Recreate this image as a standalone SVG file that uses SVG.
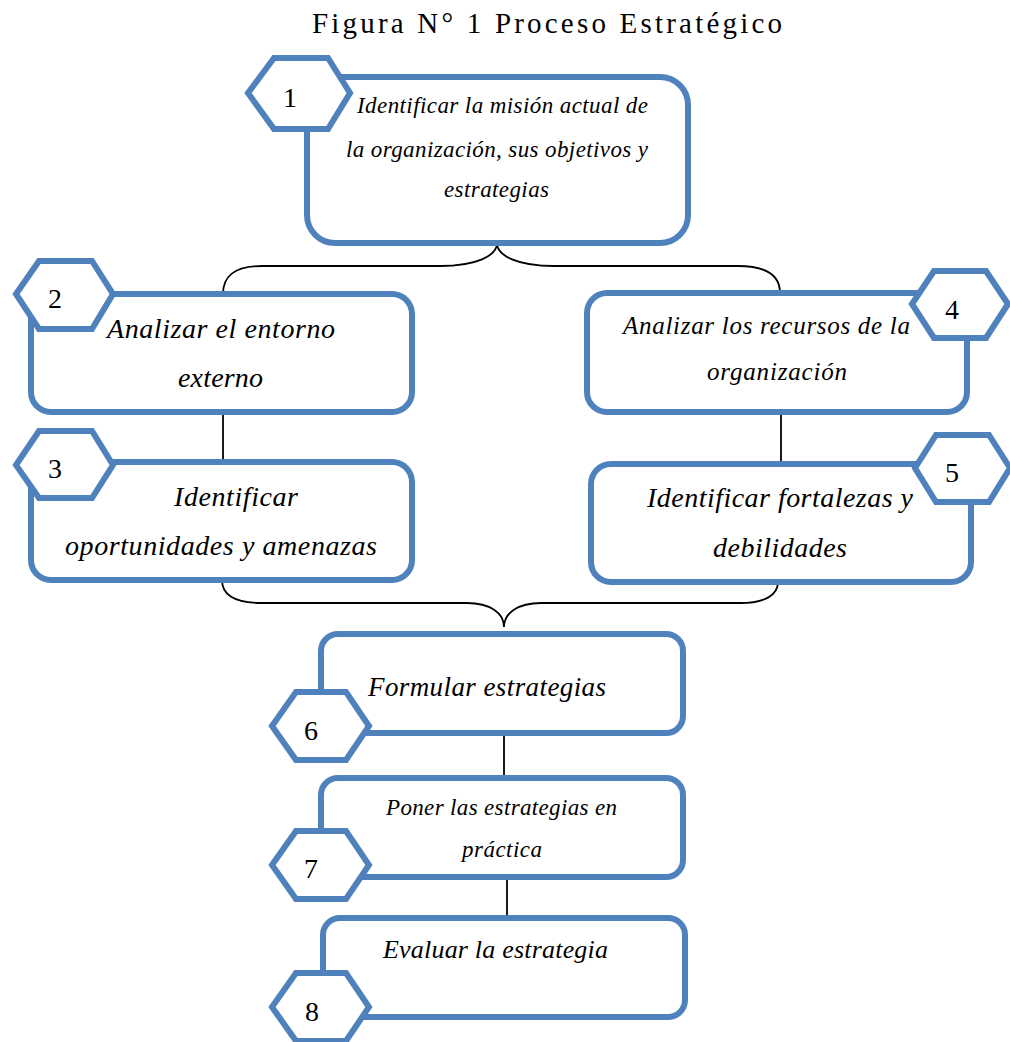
<svg xmlns="http://www.w3.org/2000/svg" width="1010" height="1042" viewBox="0 0 1010 1042">
<style>
.box{fill:#fff;stroke:#4F81BD;stroke-width:6}
.hex{fill:#fff;stroke:#4F81BD;stroke-width:6;stroke-linejoin:miter}
.con{fill:none;stroke:#000;stroke-width:1.8}
.t{font-family:"Liberation Serif","Times New Roman",serif;font-style:italic;fill:#000}
.n{font-family:"Liberation Serif","Times New Roman",serif;font-size:28px;fill:#000;text-anchor:middle}
.title{font-family:"Liberation Serif","Times New Roman",serif;font-size:29px;fill:#000}
</style>
<rect width="1010" height="1042" fill="#fff"/>
<text class="title" x="312" y="33" textLength="470" lengthAdjust="spacing">Figura N° 1 Proceso Estratégico</text>
<g id="connectors">
<path class="con" d="M223,294 C223,276 234,266 262,266 L440,266 C476,266 497,256 497,243 C497,256 518,266 554,266 L738,266 C768,266 780,276 780,293"/>
<path class="con" d="M222,580 C222,595 235,603 262,603 L467,603 C490,603 504,613 504,627 C504,613 518,603 541,603 L740,603 C765,603 778,595 778,582"/>
<line class="con" x1="223" y1="412" x2="223" y2="462"/>
<line class="con" x1="781" y1="412" x2="781" y2="464"/>
<line class="con" x1="504" y1="733" x2="504" y2="778"/>
<line class="con" x1="507" y1="877" x2="507" y2="918"/>
</g>
<g id="node1">
<rect class="box" x="307" y="77" width="381" height="166" rx="28"/>
<polygon class="hex" points="248,93 274,58 328,58 350,93 328,129 274,129"/>
<text class="n" x="290" y="107">1</text>
<text class="t" font-size="23" x="357" y="113" textLength="291" lengthAdjust="spacing">Identificar la misión actual de</text>
<text class="t" font-size="23" x="346" y="157" textLength="302" lengthAdjust="spacing">la organización, sus objetivos y</text>
<text class="t" font-size="23" x="444" y="197" textLength="105" lengthAdjust="spacing">estrategias</text>
</g>
<g id="node2">
<rect class="box" x="31" y="294" width="381" height="118" rx="20"/>
<polygon class="hex" points="16,294 39,261 92,261 113,294 92,329 39,329"/>
<text class="n" x="55" y="308">2</text>
<text class="t" font-size="28" x="107" y="338" textLength="228" lengthAdjust="spacing">Analizar el entorno</text>
<text class="t" font-size="28" x="178" y="387" textLength="85" lengthAdjust="spacing">externo</text>
</g>
<g id="node3">
<rect class="box" x="31" y="462" width="381" height="118" rx="20"/>
<polygon class="hex" points="16,465 39,431 92,431 113,465 92,498 39,498"/>
<text class="n" x="55" y="478">3</text>
<text class="t" font-size="28" x="174" y="506" textLength="124" lengthAdjust="spacing">Identificar</text>
<text class="t" font-size="28" x="65" y="555" textLength="312" lengthAdjust="spacing">oportunidades y amenazas</text>
</g>
<g id="node4">
<rect class="box" x="587" y="293" width="380" height="119" rx="20"/>
<polygon class="hex" points="912,304 934,271 986,271 1008,304 986,338 934,338"/>
<text class="n" x="952" y="319">4</text>
<text class="t" font-size="25" x="623" y="334" textLength="287" lengthAdjust="spacing">Analizar los recursos de la</text>
<text class="t" font-size="25" x="707" y="380" textLength="140" lengthAdjust="spacing">organización</text>
</g>
<g id="node5">
<rect class="box" x="591" y="464" width="380" height="118" rx="20"/>
<polygon class="hex" points="915,468 936,435 989,435 1010,468 989,502 936,502"/>
<text class="n" x="952" y="482">5</text>
<text class="t" font-size="28" x="647" y="507" textLength="266" lengthAdjust="spacing">Identificar fortalezas y</text>
<text class="t" font-size="28" x="713" y="557" textLength="134" lengthAdjust="spacing">debilidades</text>
</g>
<g id="node6">
<rect class="box" x="321" y="634" width="362" height="99" rx="17"/>
<polygon class="hex" points="272,726 296,692 346,692 369,726 346,760 296,760"/>
<text class="n" x="311" y="740">6</text>
<text class="t" font-size="27" x="368" y="696" textLength="238" lengthAdjust="spacing">Formular estrategias</text>
</g>
<g id="node7">
<rect class="box" x="321" y="778" width="362" height="99" rx="17"/>
<polygon class="hex" points="272,865 296,831 346,831 369,865 346,899 296,899"/>
<text class="n" x="311" y="878">7</text>
<text class="t" font-size="23" x="386" y="815" textLength="231" lengthAdjust="spacing">Poner las estrategias en</text>
<text class="t" font-size="23" x="462" y="857" textLength="80" lengthAdjust="spacing">práctica</text>
</g>
<g id="node8">
<rect class="box" x="323" y="918" width="362" height="99" rx="17"/>
<polygon class="hex" points="272,1007 296,973 346,973 369,1007 346,1041 296,1041"/>
<text class="n" x="312" y="1021">8</text>
<text class="t" font-size="26" x="383" y="958" textLength="225" lengthAdjust="spacing">Evaluar la estrategia</text>
</g>
</svg>
